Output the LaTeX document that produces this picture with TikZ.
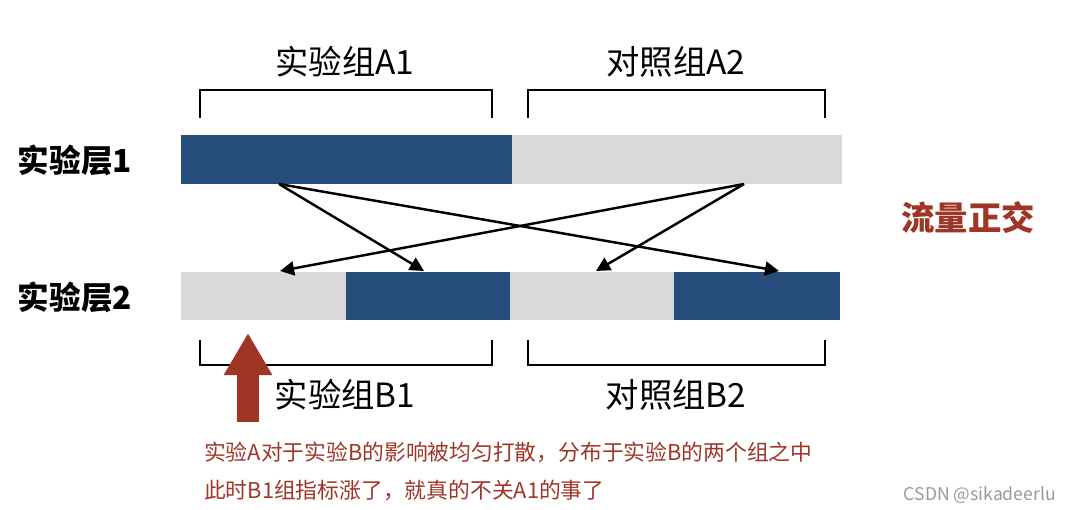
\documentclass[tikz,border=0pt]{standalone}
\usepackage{fontspec}
\setmainfont{Noto Sans CJK SC}
\usetikzlibrary{arrows.meta}
\definecolor{dk}{HTML}{274D7A}
\definecolor{lg}{HTML}{D9D9D9}
\definecolor{rd}{HTML}{9E3527}
\begin{document}
\begin{tikzpicture}[x=0.02cm,y=-0.02cm,
  brk/.style={line width=1.3pt},
  cross/.style={line width=1.4pt,-{Triangle[length=8pt,width=8pt]}},
  lab/.style={font=\fontsize{19pt}{19pt}\selectfont},
  layer/.style={font=\fontsize{18pt}{18pt}\selectfont\bfseries},
  note/.style={font=\fontsize{12.4pt}{12.4pt}\selectfont,text=rd,anchor=west}]
\useasboundingbox (0,0) rectangle (1073,510);
% layer 1
\fill[dk] (181,135) rectangle (512,184);
\fill[lg] (512,135) rectangle (842,184);
% layer 2
\fill[lg] (181,272) rectangle (346,320);
\fill[dk] (346,272) rectangle (510,320);
\fill[lg] (510,272) rectangle (674,320);
\fill[dk] (674,272) rectangle (840,320);
\node[layer] (l1) at (75,160) {实验层1};
\node[layer] (l2) at (75,297) {实验层2};
% brackets
\draw[brk] (200,118) -- (200,90) -- (492,90) -- (492,118);
\draw[brk] (528,118) -- (528,90) -- (825,90) -- (825,118);
\draw[brk] (200,340) -- (200,365) -- (492,365) -- (492,340);
\draw[brk] (528,340) -- (528,365) -- (825,365) -- (825,340);
\node[lab] (a1) at (345,62) {实验组A1};
\node[lab] (a2) at (676,62) {对照组A2};
\node[lab] (b1) at (345,395) {实验组B1};
\node[lab] (b2) at (676,395) {对照组B2};
% crossing arrows
\coordinate (o1) at (279,184);
\coordinate (o2) at (744,184);
\coordinate (t1) at (280,271);
\coordinate (t2) at (424,271);
\coordinate (t3) at (596,271);
\coordinate (t4) at (779,271);
\draw[cross] (o1) -- (t2);
\draw[cross] (o1) -- (t4);
\draw[cross] (o2) -- (t1);
\draw[cross] (o2) -- (t3);
% red arrow
\coordinate (rb) at (248,422);
\coordinate (rt) at (248,333);
\draw[rd,line width=12pt,-{Triangle[length=24pt,width=26pt]}] (rb) -- (rt);
\node[note] (n1) at (198,452) {实验A对于实验B的影响被均匀打散，分布于实验B的两个组之中};
\node[note] (n2) at (198,490) {此时B1组指标涨了，就真的不关A1的事了};
\node[font=\fontsize{19pt}{19pt}\selectfont\bfseries,text=rd] (flow) at (968,218) {流量正交};
\node[font=\fontsize{10pt}{10pt}\selectfont,text=gray!80,anchor=east] (wm) at (1062,495) {CSDN @sikadeerlu};
\end{tikzpicture}
\end{document}
